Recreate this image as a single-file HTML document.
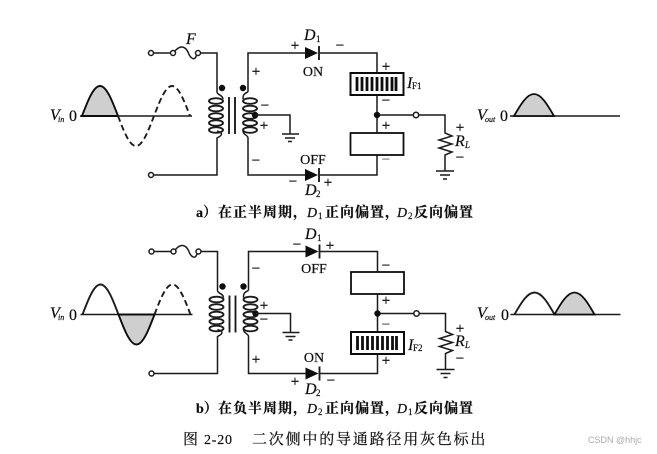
<!DOCTYPE html>
<html><head><meta charset="utf-8">
<style>
html,body{margin:0;padding:0;background:#fff;width:657px;height:454px;overflow:hidden}
svg{display:block}
text{font-family:"Liberation Serif","Noto Serif CJK SC",serif;fill:#111;stroke:#111;stroke-width:.2px}
.i{font-style:italic}
.s{font-size:15px;text-anchor:middle;stroke-width:.35px}
.c{font-size:14px;font-weight:700;fill:#111}
.l{font-size:14px;text-anchor:middle}
.d{font-size:16px;font-style:italic}
.u{font-size:9px}
.w{stroke:#1c1c1c;stroke-width:1.5px;fill:none}
.h{stroke-width:1.9px}
</style></head><body>
<svg width="657" height="454" viewBox="0 0 657 454" xmlns="http://www.w3.org/2000/svg">
<defs>
<filter id="b" x="-5%" y="-5%" width="110%" height="110%"><feGaussianBlur stdDeviation="0.3"/></filter>
<g id="circ">
<path class="w" d="M154 53H171M200.500 53H217V92C217 95 223 95 223 99M217 131C223 133 223 135 217 138V175H154"/>
<path class="w" d="M175 51C180 45 185 46 188 52C190 58 195 62 196.500 55"/>
<circle class="w" cx="151" cy="53" r="2.500"/><circle class="w" cx="173" cy="53" r="2.500"/><circle class="w" cx="198" cy="53" r="2.500"/><circle class="w" cx="151" cy="175" r="2.500"/>
<g class="w h">
<ellipse cx="216" cy="101" rx="7" ry="2.800"/><ellipse cx="216" cy="108.500" rx="7" ry="2.800"/><ellipse cx="216" cy="116" rx="7" ry="2.800"/><ellipse cx="216" cy="123" rx="7" ry="2.800"/><ellipse cx="216" cy="130" rx="7" ry="2.800"/>
<ellipse cx="250" cy="101" rx="7" ry="2.800"/><ellipse cx="250" cy="108.500" rx="7" ry="2.800"/><ellipse cx="250" cy="116" rx="7" ry="2.800"/><ellipse cx="250" cy="123" rx="7" ry="2.800"/><ellipse cx="250" cy="130" rx="7" ry="2.800"/>
</g>
<path class="w h" d="M229 97V134M235 97V134"/>
<circle cx="222" cy="88" r="3.200" fill="#111"/><circle cx="243" cy="88" r="3.200" fill="#111"/><circle cx="255" cy="115" r="3.200" fill="#111"/>
<path class="w" d="M248 92V53H305M248 92C243 94 243 96 243 99M243 131C243 135 248 135 248 138V175H305M320 53H377V73M320 175H377V155M377 95V133M377 115H413.500M418.500 115H445V133L452 136L439 140L452 144L439 148L452 152L445 155V171"/>
<circle class="w" cx="416" cy="115" r="2.700"/><circle cx="377" cy="115" r="3.200" fill="#111"/>
<path class="w" d="M255 115H290V134M282 134H299M285 138H295M288 141.500H292M436 171H454M440 175H450M443 179H447"/>
<path d="M305 47V59L318 53Z M305 169V181L318 175Z" fill="#111"/>
<path class="w h" d="M319 46V60M319 168V182"/>
<path class="w" d="M80 116H192M510 116H620"/>
</g>
</defs>
<g filter="url(#b)">
<use href="#circ"/>
<use href="#circ" transform="translate(0.500,198.500)"/>

<path d="M82 116C87.900 100.600 93.500 86 100 86C106.500 86 112.100 100.600 118 116Z" fill="#cfcfcf" stroke="#111" stroke-width="1.900"/>
<path d="M118 116C123.900 131.400 129.500 146 136 146C142.500 146 148.100 131.400 154 116C159.900 100.600 165.500 86 172 86C178.500 86 184.100 100.600 190 116" class="w h" stroke-dasharray="6 3.500"/>
<path d="M514 116C520.500 104.700 526.800 94 534 94C541.200 94 547.500 104.700 554 116Z" fill="#cfcfcf" stroke="#111" stroke-width="1.800"/>
<rect x="350.500" y="73" width="53" height="22" fill="#fff" stroke="#111" stroke-width="2"/>
<path d="M357 77V91M362 77V91M367 77V91M372 77V91M377 77V91M382 77V91M387 77V91M392 77V91M396 77V91" stroke="#111" stroke-width="2.800"/>
<rect x="350.500" y="133" width="53" height="22" fill="#fff" stroke="#111" stroke-width="1.800"/>

<path d="M82.500 314.500C88.400 299 94 284.500 100.500 284.500C107 284.500 112.600 299 118.500 314.500" class="w h"/>
<path d="M118.500 314.500C124.400 330 130 344.500 136.500 344.500C143 344.500 148.600 330 154.500 314.500Z" fill="#cfcfcf" stroke="#111" stroke-width="1.900"/>
<path d="M154.500 314.500C160.400 299 166 284.500 172.500 284.500C179 284.500 184.600 299 190.500 314.500" class="w h" stroke-dasharray="6 3.500"/>
<path d="M514.500 314.500C521 303 527.300 292.500 534.500 292.500C541.700 292.500 548 303 554.500 314.500" class="w h"/>
<path d="M554.500 314.500C561 303 567.300 292.500 574.500 292.500C581.700 292.500 588 303 594.500 314.500Z" fill="#cfcfcf" stroke="#111" stroke-width="1.800"/>
<rect x="351" y="272" width="53" height="22" fill="#fff" stroke="#111" stroke-width="1.800"/>
<rect x="351" y="332" width="53" height="22" fill="#fff" stroke="#111" stroke-width="2"/>
<path d="M357.500 336V350M362.500 336V350M367.500 336V350M372.500 336V350M377.500 336V350M382.500 336V350M387.500 336V350M392.500 336V350M396.500 336V350" stroke="#111" stroke-width="2.800"/>

<text class="d" x="186" y="44">F</text>
<text class="d" x="304" y="40">D</text><text class="u" x="316" y="42">1</text>
<text class="s" x="295" y="50">+</text><text class="s" x="340" y="50">−</text>
<text class="l" x="313" y="76">ON</text>
<text class="s" x="256" y="76">+</text><text class="s" x="265" y="110">−</text><text class="s" x="264" y="130">+</text><text class="s" x="256" y="165">−</text>
<text class="l" x="313" y="164">OFF</text>
<text class="d" x="305" y="195">D</text><text class="u" x="316" y="197">2</text>
<text class="s" x="293" y="186">−</text><text class="s" x="328" y="187">+</text>
<text class="d" x="50" y="120">V</text><text class="i" font-size="8" x="58" y="122">in</text><text font-size="16" x="69" y="121">0</text>
<text class="s" x="386" y="71">+</text><text class="s" x="386" y="105">−</text><text class="s" x="386" y="130">+</text><text class="s" x="386" y="164" style="fill:#777;stroke:#777">−</text>
<text class="d" x="407" y="88">I</text><text class="u" x="412" y="89">F1</text>
<text class="s" x="460" y="132">+</text><text class="d" x="455" y="146">R</text><text class="u i" x="465" y="148">L</text><text class="s" x="460" y="162">−</text>
<text class="d" x="477" y="120">V</text><text class="i" font-size="8" x="485" y="122">out</text><text font-size="16" x="500" y="121">0</text>

<text class="d" x="305" y="239">D</text><text class="u" x="317" y="241">1</text>
<text class="s" x="297" y="249">−</text><text class="s" x="330" y="250">+</text>
<text class="l" x="314" y="273">OFF</text>
<text class="s" x="256" y="273">−</text><text class="s" x="264" y="310">+</text><text class="s" x="264" y="324">−</text><text class="s" x="256" y="364">+</text>
<text class="l" x="314" y="362">ON</text>
<text class="d" x="305" y="394">D</text><text class="u" x="316" y="396">2</text>
<text class="s" x="295" y="386">+</text><text class="s" x="331" y="385">−</text>
<text class="d" x="50" y="318">V</text><text class="i" font-size="8" x="58" y="320">in</text><text font-size="16" x="69" y="320">0</text>
<text class="s" x="386" y="270">−</text><text class="s" x="386" y="305">+</text><text class="s" x="386" y="329" style="fill:#555;stroke:#555">−</text><text class="s" x="386" y="365">+</text>
<text class="d" x="408" y="350">I</text><text class="u" x="413" y="351">F2</text>
<text class="s" x="460" y="333">+</text><text class="d" x="455" y="346">R</text><text class="u i" x="465" y="348">L</text><text class="s" x="460" y="363">−</text>
<text class="d" x="477" y="318">V</text><text class="i" font-size="8" x="485" y="320">out</text><text font-size="16" x="501" y="320">0</text>

<text class="c" x="196" y="217">a）</text>
<text class="c" x="218" y="217" letter-spacing="1">在正半周期，</text>
<text class="c i" x="307" y="217" style="font-weight:400">D</text><text class="u" x="318" y="219">1</text>
<text class="c" x="325" y="217" letter-spacing="1">正向偏置，</text>
<text class="c i" x="397" y="217" style="font-weight:400">D</text><text class="u" x="408" y="219">2</text>
<text class="c" x="414" y="217" letter-spacing="1">反向偏置</text>

<text class="c" x="196" y="413">b）</text>
<text class="c" x="218" y="413" letter-spacing="1">在负半周期，</text>
<text class="c i" x="307" y="413" style="font-weight:400">D</text><text class="u" x="318" y="415">2</text>
<text class="c" x="325" y="413" letter-spacing="1">正向偏置，</text>
<text class="c i" x="397" y="413" style="font-weight:400">D</text><text class="u" x="408" y="415">1</text>
<text class="c" x="414" y="413" letter-spacing="1">反向偏置</text>

<text font-size="15" x="183" y="444">图</text>
<text font-size="14" x="204" y="444" letter-spacing="0.800">2-20</text>
<text font-size="15" x="252" y="444" letter-spacing="1.800">二次侧中的导通路径用灰色标出</text>
</g>
<text x="588" y="443" font-size="9" style="font-family:'Liberation Sans',sans-serif;fill:#aaa;stroke:none">CSDN @hhjc</text>
</svg>
</body></html>
